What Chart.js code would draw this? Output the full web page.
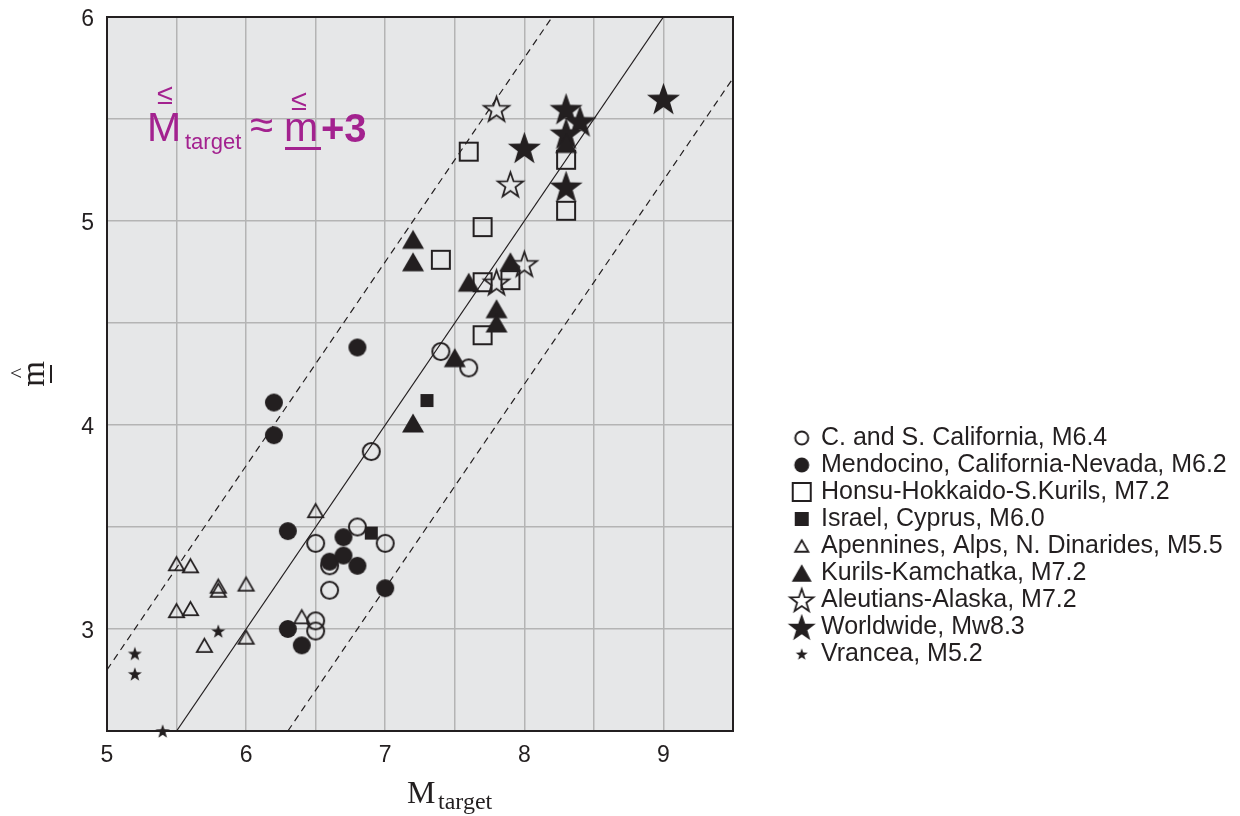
<!DOCTYPE html>
<html><head><meta charset="utf-8">
<script src="https://cdn.jsdelivr.net/npm/chart.js@4.4.1/dist/chart.umd.min.js"></script>
<style>
html,body{margin:0;padding:0;background:#fff;}
#wrap{position:relative;width:1240px;height:816px;overflow:hidden;}
#c{position:absolute;left:0;top:0;}
.t{position:absolute;white-space:nowrap;line-height:1;}
.ann{color:#a3228f;font-family:"Liberation Sans",Arial,sans-serif;}
.ser{font-family:"Liberation Serif","Times New Roman",serif;color:#231f20;}
.rot{position:absolute;width:0;height:0;}
.rot span{position:absolute;left:0;top:0;transform:translate(-50%,-50%) rotate(-90deg);white-space:nowrap;line-height:1;}
</style></head>
<body><div id="wrap"><canvas id="c" width="1240" height="816"></canvas>
<!-- annotation -->
<span class="t ann" style="left:157px;top:80px;font-size:29px;">≤</span>
<span class="t ann" style="left:147px;top:107px;font-size:41px;">M</span>
<span class="t ann" style="left:185px;top:131px;font-size:22px;">target</span>
<span class="t ann" style="left:250px;top:104px;font-size:42px;">≈</span>
<span class="t ann" style="left:291px;top:86px;font-size:29px;">≤</span>
<span class="t ann" style="left:284px;top:107px;font-size:41px;">m</span>
<div style="position:absolute;left:285px;top:147px;width:36px;height:2.5px;background:#a3228f;"></div>
<span class="t ann" style="left:321px;top:108px;font-size:40px;font-weight:bold;">+3</span>
<!-- x title -->
<span class="t ser" style="left:407px;top:776px;font-size:32px;">M</span>
<span class="t ser" style="left:438px;top:789px;font-size:24px;">target</span>
<!-- y title -->
<div class="rot" style="left:33px;top:373.5px;"><span class="ser" style="font-size:33px;">m</span></div>
<div class="rot" style="left:17.5px;top:372.5px;"><span class="ser" style="font-size:22px;">^</span></div>
<div style="position:absolute;left:50px;top:365px;width:2px;height:18px;background:#231f20;"></div>
</div>
<script>
// ---- data ----
const xTicks = [5, 6, 7, 8, 9];
const yTicks = [3, 4, 5, 6];

const seriesNames = [
  'C. and S. California, M6.4',
  'Mendocino, California-Nevada, M6.2',
  'Honsu-Hokkaido-S.Kurils, M7.2',
  'Israel, Cyprus, M6.0',
  'Apennines, Alps, N. Dinarides, M5.5',
  'Kurils-Kamchatka, M7.2',
  'Aleutians-Alaska, M7.2',
  'Worldwide, Mw8.3',
  'Vrancea, M5.2'
];

const calX = [7.4, 7.6, 6.9, 6.8, 6.5, 7.0, 6.6, 6.6, 6.5, 6.5];
const calY = [4.36, 4.28, 3.87, 3.50, 3.42, 3.42, 3.31, 3.19, 3.04, 2.99];

const mendX = [6.2, 6.2, 6.8, 6.3, 6.7, 6.6, 6.7, 6.8, 7.0, 6.3, 6.4];
const mendY = [4.11, 3.95, 4.38, 3.48, 3.45, 3.33, 3.36, 3.31, 3.20, 3.00, 2.92];

const honsuX = [7.6, 8.3, 8.3, 7.7, 7.4, 7.7, 7.9, 7.7];
const honsuY = [5.34, 5.30, 5.05, 4.97, 4.81, 4.70, 4.71, 4.44];

const israelX = [6.9, 7.3];
const israelY = [3.47, 4.12];

const apenX = [6.5, 5.5, 5.6, 5.8, 5.8, 6.0, 5.5, 5.6, 5.7, 6.0, 6.4];
const apenY = [3.58, 3.32, 3.31, 3.21, 3.19, 3.22, 3.09, 3.10, 2.92, 2.96, 3.06];

const kurilX = [7.2, 7.2, 7.6, 7.9, 7.8, 7.8, 7.5, 7.2, 8.3];
const kurilY = [4.91, 4.80, 4.70, 4.80, 4.57, 4.50, 4.33, 4.01, 5.38];

const aleutX = [7.8, 7.9, 8.0, 7.8];
const aleutY = [5.55, 5.18, 4.79, 4.70];

const worldX = [9.0, 8.3, 8.4, 8.3, 8.0, 8.3];
const worldY = [5.60, 5.55, 5.49, 5.43, 5.36, 5.17];

const vrancX = [5.2, 5.2, 5.8, 5.4];
const vrancY = [2.88, 2.78, 2.99, 2.50];

// reference lines (end points)
const fitX = [5.5, 9.0];   const fitY = [2.5, 6.0];
const upX  = [5.0, 8.2];   const upY  = [2.8, 6.0];
const loX  = [6.3, 9.5];   const loY  = [2.5, 5.7];

// ---- marker icons ----
const ink = '#231f20';
function makeIcon(shape, size, filled, lw, W, H, cxOff) {
  const pad = Math.ceil(lw || 0) + 2;
  const w = W || Math.ceil(size + pad * 2);
  const h = H || Math.ceil(size + pad * 2);
  const c = document.createElement('canvas');
  c.width = w; c.height = h;
  const g = c.getContext('2d');
  const cx = w / 2 + (cxOff || 0), cy = h / 2;
  const s = size - (filled ? 0 : lw);
  g.beginPath();
  if (shape === 'circle') {
    g.arc(cx, cy, s / 2, 0, Math.PI * 2);
  } else if (shape === 'square') {
    g.rect(cx - s / 2, cy - s / 2, s, s);
  } else if (shape === 'triangle') {
    const th = s * 0.87;
    g.moveTo(cx, cy - th / 2); g.lineTo(cx + s / 2, cy + th / 2); g.lineTo(cx - s / 2, cy + th / 2); g.closePath();
  } else if (shape === 'star') {
    const R = s / 1.902, r = R * 0.4, dy = R * (1 - 0.809) / 2;
    for (let k = 0; k < 10; k++) {
      const rad = k % 2 ? r : R;
      const a = -Math.PI / 2 + k * Math.PI / 5;
      const px = cx + rad * Math.cos(a), py = cy + dy + rad * Math.sin(a);
      if (k) g.lineTo(px, py); else g.moveTo(px, py);
    }
    g.closePath();
  }
  if (filled) { g.fillStyle = ink; g.fill(); }
  else { g.strokeStyle = ink; g.lineWidth = lw; g.lineJoin = 'miter'; g.stroke(); }
  return c;
}
// [shape, plotSize, filled, lineWidth, legendSize]
const markerSpec = [
  ['circle', 19, false, 2, 15],
  ['circle', 18, true, 0, 15],
  ['square', 20, false, 2, 20],
  ['square', 13, true, 0, 14],
  ['triangle', 17, false, 1.8, 15],
  ['triangle', 22, true, 0, 20],
  ['star', 27, false, 1.8, 25],
  ['star', 33, true, 0, 28],
  ['star', 14, true, 0, 12]
];
const plotIcons = markerSpec.map(m => makeIcon(m[0], m[1], m[2], m[3]));
const LEG_BOX = 73.5;
const legendIcons = markerSpec.map(m => makeIcon(m[0], m[4], m[2], m[3], 100, 34, 30));

const seriesX = [calX, mendX, honsuX, israelX, apenX, kurilX, aleutX, worldX, vrancX];
const seriesY = [calY, mendY, honsuY, israelY, apenY, kurilY, aleutY, worldY, vrancY];
const filledFlags = markerSpec.map(m => m[2]);

const pts = (xs, ys) => xs.map((x, i) => ({x: x, y: ys[i]}));

const datasets = seriesNames.map((name, i) => ({
  label: name,
  data: pts(seriesX[i], seriesY[i]),
  pointStyle: plotIcons[i],
  pointRadius: 10,
  pointHoverRadius: 10,
  showLine: false,
  clip: false,
  order: filledFlags[i] ? 1 : 5
}));
const lineDs = (xs, ys, dash) => ({
  label: '', data: pts(xs, ys), showLine: true, pointRadius: 0, pointHoverRadius: 0,
  borderColor: ink, borderWidth: 1.2, borderDash: dash, fill: false, order: 20
});
datasets.push(lineDs(fitX, fitY, []));
datasets.push(lineDs(upX, upY, [7, 5]));
datasets.push(lineDs(loX, loY, [7, 5]));

const tickCb = (list) => (v) => {
  const r = Math.round(v);
  return (Math.abs(v - r) < 1e-6 && list.includes(r)) ? String(r) : '';
};

const framePlugin = {
  id: 'frame',
  beforeDraw(chart) {
    const {ctx, chartArea: a} = chart;
    ctx.save();
    ctx.fillStyle = '#e6e7e8';
    ctx.fillRect(a.left, a.top, a.right - a.left, a.bottom - a.top);
    ctx.restore();
  },
  beforeDatasetsDraw(chart) {
    const {ctx, chartArea: a} = chart;
    ctx.save();
    ctx.strokeStyle = ink; ctx.lineWidth = 2;
    ctx.strokeRect(a.left, a.top, a.right - a.left, a.bottom - a.top);
    ctx.restore();
  }
};

const fontFam = "'Liberation Sans', Arial, sans-serif";
const LEG_ROW1 = 438, LEG_PAD = 2;
const chart = new Chart(document.getElementById('c'), {
  type: 'scatter',
  data: {datasets: datasets},
  plugins: [framePlugin],
  options: {
    responsive: false, animation: false, devicePixelRatio: 1,
    layout: {padding: {left: 0, top: 17, right: 10, bottom: 0}},
    scales: {
      x: {
        type: 'linear', min: 5, max: 9.5,
        afterFit: (s) => { s.height = 85; },
        ticks: {stepSize: 0.5, autoSkip: false, maxRotation: 0, padding: 11, color: ink,
          font: {family: fontFam, size: 23}, callback: tickCb(xTicks)},
        grid: {color: '#b4b4b4', lineWidth: 1.5, drawTicks: false},
        border: {display: false}
      },
      y: {
        type: 'linear', min: 2.5, max: 6,
        afterFit: (s) => { s.width = 107; },
        ticks: {stepSize: 0.5, autoSkip: false, padding: 13, labelOffset: 2.5, color: ink,
          font: {family: fontFam, size: 23, lineHeight: 0.2}, callback: tickCb(yTicks)},
        grid: {color: '#b4b4b4', lineWidth: 1.5, drawTicks: false},
        border: {display: false}
      }
    },
    plugins: {
      tooltip: {enabled: false},
      legend: {
        position: 'right', align: 'start', maxWidth: 620,
        title: {display: true, text: ' ', font: {size: 10, lineHeight: 1}, padding: {top: 380, bottom: 0}},
        labels: {
          usePointStyle: true, pointStyleWidth: LEG_BOX, padding: LEG_PAD, color: ink,
          font: {family: fontFam, size: 25, lineHeight: 1},
          generateLabels: () => seriesNames.map((n, i) => ({
            text: n, pointStyle: legendIcons[i], fillStyle: 'rgba(0,0,0,0)', strokeStyle: 'rgba(0,0,0,0)',
            lineWidth: 0, hidden: false, datasetIndex: i, fontColor: ink
          }))
        }
      }
    }
  }
});
// layout fine-tuning: plot right edge at 733, top at 17, first legend row at LEG_ROW1
const lay = chart.options.layout.padding;
lay.right += chart.chartArea.right - 733;
lay.top -= chart.chartArea.top - 17;
chart.update();
const tPad = LEG_ROW1 - 12.5 - LEG_PAD - 10 - chart.legend.top;
chart.options.plugins.legend.title.padding = {top: tPad, bottom: 0};
chart.update();
</script>
</body></html>
